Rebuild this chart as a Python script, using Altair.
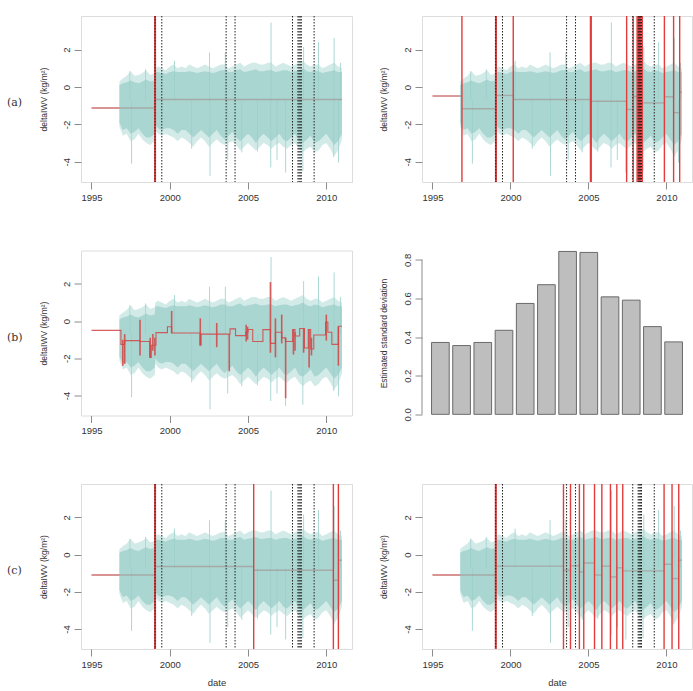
import altair as alt
import pandas as pd

FONT = "Liberation Sans"

env_t = [1996.78, 1997.0, 1997.25, 1997.5, 1997.75, 1998.0, 1998.25, 1998.5, 1998.75, 1999.04,
         1999.08, 1999.25, 1999.5, 1999.75,
         2000.0, 2000.25, 2000.5, 2000.75,
         2001.0, 2001.25, 2001.5, 2001.75,
         2002.0, 2002.25, 2002.5, 2002.75,
         2003.0, 2003.25, 2003.5, 2003.75,
         2004.0, 2004.25, 2004.5, 2004.75,
         2005.0, 2005.25, 2005.5, 2005.75,
         2006.0, 2006.25, 2006.5, 2006.75,
         2007.0, 2007.25, 2007.5, 2007.75,
         2008.0, 2008.25, 2008.5, 2008.75,
         2009.0, 2009.25, 2009.5, 2009.75,
         2010.0, 2010.25, 2010.5, 2010.75, 2011.0]
env_outer_hi = [0.3, 0.45, 0.6, 0.85, 0.6, 0.65, 0.75, 0.9, 0.65, 0.75,
                1.0, 1.1, 1.0, 0.9,
                1.1, 1.2, 1.0, 1.1,
                1.0, 1.2, 1.1, 1.0,
                1.1, 1.2, 1.1, 1.0,
                1.1, 1.2, 1.2, 1.0,
                1.1, 1.2, 1.3, 1.1,
                1.2, 1.3, 1.3, 1.2,
                1.2, 1.3, 1.3, 1.1,
                1.2, 1.3, 1.2, 1.1,
                1.2, 1.3, 1.4, 1.2,
                1.1, 1.2, 1.2, 1.0,
                1.1, 1.2, 1.3, 1.1, 1.0]
env_outer_lo = [-2.1, -2.6, -2.5, -2.9, -2.8, -2.5, -2.8, -3.0, -3.1, -2.9,
                -2.3, -2.5, -2.6, -2.5,
                -2.6, -2.7, -2.9, -2.7,
                -2.8, -3.0, -3.2, -2.9,
                -2.7, -2.9, -3.2, -3.0,
                -2.8, -3.0, -3.1, -3.0,
                -2.9, -3.1, -3.4, -3.2,
                -3.0, -3.2, -3.4, -3.2,
                -3.0, -3.1, -3.3, -3.1,
                -3.0, -3.2, -3.3, -3.1,
                -3.0, -3.3, -3.5, -3.3,
                -3.2, -3.5, -3.4, -3.1,
                -3.0, -3.3, -3.7, -3.4, -2.8]
env_inner_hi = [0.1, 0.2, 0.25, 0.35, 0.25, 0.2, 0.3, 0.4, 0.3, 0.35,
                0.8, 0.8, 0.75, 0.7,
                0.8, 0.85, 0.8, 0.8,
                0.8, 0.85, 0.8, 0.75,
                0.8, 0.85, 0.8, 0.75,
                0.8, 0.9, 0.9, 0.8,
                0.8, 0.9, 0.95, 0.8,
                0.85, 0.9, 0.95, 0.85,
                0.85, 0.9, 0.9, 0.8,
                0.85, 0.9, 0.9, 0.8,
                0.85, 0.9, 1.0, 0.85,
                0.8, 0.9, 0.85, 0.75,
                0.8, 0.85, 0.9, 0.8, 0.8]
env_inner_lo = [-1.9, -2.3, -2.2, -2.5, -2.4, -2.2, -2.5, -2.7, -2.7, -2.5,
                -2.0, -2.2, -2.3, -2.2,
                -2.2, -2.3, -2.5, -2.3,
                -2.3, -2.5, -2.7, -2.5,
                -2.3, -2.5, -2.7, -2.5,
                -2.3, -2.6, -2.8, -2.6,
                -2.4, -2.7, -2.9, -2.7,
                -2.5, -2.7, -3.0, -2.7,
                -2.5, -2.7, -2.9, -2.7,
                -2.5, -2.8, -2.9, -2.7,
                -2.5, -2.9, -3.0, -2.8,
                -2.6, -3.0, -2.9, -2.7,
                -2.5, -2.8, -3.1, -2.9, -2.5]

# isolated outlying observations
spike_t = [1997.45, 1997.56, 1998.45, 2000.3, 2001.4, 2002.54, 2002.57, 2003.55, 2003.7, 2004.6,
           2005.6, 2006.45, 2006.47, 2006.85, 2007.4, 2008.55, 2008.5, 2009.5, 2010.5, 2010.47,
           2010.78, 2010.9]
spike_v = [0.85, -4.1, 0.95, 1.4, -3.3, 1.85, -4.75, 1.85, -3.9, -3.5,
           -3.45, -4.3, 3.45, -3.9, -4.57, 2.15, -4.5, 2.4, 2.62, -3.75,
           -4.05, 1.3]
spike_base = -0.7

# known metadata changes (black dotted lines)
meta_t = [1999.06, 1999.49, 2003.6, 2004.17, 2007.84, 2008.19, 2008.26, 2008.33, 2008.4, 2009.22]

# ---------------- panel (a) left ----------------
a1_red = [1999.04, 1999.08]
a1_s0 = [1995.0, 1999.06]
a1_s1 = [1999.06, 2011.0]
a1_lv = [-1.12, -0.67]

# ---------------- panel (a) right ----------------
a2_red = [1996.89, 1999.05, 1999.09, 2000.18, 2005.13, 2005.18, 2007.45, 2007.87,
          2008.12, 2008.2, 2008.28, 2008.36, 2008.45, 2009.87, 2010.46, 2010.85]
a2_s0 = [1995.0, 1996.89, 1999.07, 2000.18, 2005.15, 2007.45, 2007.87, 2008.45, 2009.87, 2010.46, 2010.85]
a2_s1 = [1996.89, 1999.07, 2000.18, 2005.15, 2007.45, 2007.87, 2008.12, 2009.87, 2010.46, 2010.85, 2011.0]
a2_lv = [-0.48, -1.16, -0.45, -0.67, -0.76, -1.2, -0.5, -0.85, -0.52, -1.37, -0.28]

# ---------------- panel (b) left: step estimate ----------------
b_step_t = [1995.0, 1996.88, 1997.12, 1998.1, 1998.72, 1998.82, 1999.12, 1999.85, 2000.12, 2001.93,
            2002.0, 2003.8, 2003.85, 2004.2, 2004.85, 2005.0, 2005.3, 2005.95, 2006.43, 2006.75,
            2007.15, 2007.4, 2007.85, 2008.0, 2008.3, 2008.6, 2008.85, 2009.0, 2009.2, 2009.95,
            2010.1, 2010.35, 2010.77, 2011.0]
b_step_v = [-0.5, -1.25, -1.05, -1.1, -1.95, -1.3, -0.62, -0.3, -0.64, -1.3,
            -0.7, -0.7, -0.42, -0.78, -0.6, -0.45, -1.1, -0.46, -1.2, -0.6,
            -0.9, -1.1, -0.45, -0.8, -0.4, -1.45, -0.45, -1.5, -0.75, -0.05,
            -0.6, -1.25, -0.28, -0.28]
b_spk_t = [1997.0, 1997.12, 1998.1, 1998.75, 1998.92, 1999.05, 2000.12, 2001.95, 2003.0, 2003.8,
           2004.88, 2004.97, 2006.43, 2006.75, 2007.15, 2007.4, 2007.9, 2008.0, 2008.55, 2008.9,
           2009.05, 2010.0, 2010.77]
b_spk_lo = [-2.4, -2.3, -1.85, -1.95, -1.6, -1.85, -0.65, -1.3, -1.4, -2.7,
            -1.1, -1.0, -1.7, -1.95, -1.2, -4.15, -1.8, -1.6, -1.7, -2.5,
            -1.85, -1.05, -2.4]
b_spk_hi = [-1.0, -0.7, 0.07, -0.9, -0.7, -0.9, 0.55, 0.15, -0.1, -0.7,
            -0.2, -0.3, 2.1, 0.15, 0.35, -0.9, -0.45, -0.6, -0.4, -0.45,
            -0.9, 0.35, -0.3]

# ---------------- panel (b) right: monthly standard deviation ----------------
months = ["Jan", "Feb", "Mar", "Apr", "May", "Jun", "Jul", "Aug", "Sep", "Oct", "Nov", "Dec"]
sd_values = [0.372, 0.356, 0.372, 0.435, 0.574, 0.671, 0.843, 0.838, 0.608, 0.591, 0.454, 0.375]

# ---------------- panel (c) left ----------------
c1_red = [1999.04, 1999.08, 2005.36, 2010.45, 2010.77]
c1_s0 = [1995.0, 1999.06, 2005.36, 2010.45, 2010.77]
c1_s1 = [1999.06, 2005.36, 2010.45, 2010.77, 2011.0]
c1_lv = [-1.1, -0.64, -0.84, -1.38, -0.3]

# ---------------- panel (c) right ----------------
c2_red = [1999.04, 1999.08, 2003.4, 2003.85, 2004.42, 2004.7, 2005.39, 2005.86, 2006.41, 2006.82,
          2007.2, 2009.85, 2010.36, 2010.79]
c2_s0 = [1995.0, 1999.06, 2003.4, 2003.85, 2004.42, 2004.7, 2005.39, 2005.86, 2006.41, 2006.82,
         2007.2, 2009.85, 2010.36, 2010.79]
c2_s1 = [1999.06, 2003.4, 2003.85, 2004.42, 2004.7, 2005.39, 2005.86, 2006.41, 2006.82, 2007.2,
         2009.85, 2010.36, 2010.79, 2011.0]
c2_lv = [-1.1, -0.62, -0.84, -0.6, -0.93, -0.45, -1.1, -0.62, -1.2, -0.71,
         -0.875, -0.52, -1.29, -0.3]

# ---------------- styling helpers ----------------
XS = alt.Scale(domain=[1994.33, 2011.64], nice=False, zero=False)
YS = alt.Scale(domain=[-5.08, 3.8], nice=False, zero=False)
TEAL_OUT = "#d3ebe8"
TEAL_IN = "#94ccc7"
TEAL_SPK = "#acd8d4"
RED = "#e23c3c"
AXC = "#8c8c8c"
TXT = "#333333"

env_df = pd.DataFrame({"t": env_t, "olo": env_outer_lo, "ohi": env_outer_hi,
                       "ilo": env_inner_lo, "ihi": env_inner_hi})
spk_df = pd.DataFrame({"t": spike_t, "v": spike_v, "b": [spike_base] * len(spike_t)})
meta_df = pd.DataFrame({"t": meta_t})


def x_axis(title):
    return alt.Axis(values=[1995, 2000, 2005, 2010], format="d", grid=False, domain=False,
                    tickSize=7, tickColor=AXC, labelColor=TXT, labelFont=FONT, labelFontSize=9.5,
                    labelPadding=3, labelFlush=False, title=title, titleFont=FONT,
                    titleFontSize=9.5, titleFontWeight="normal", titleColor=TXT, titlePadding=9)


def y_axis(h, tx):
    return alt.Axis(values=[-4, -2, 0, 2], labelExpr="'' + datum.value", grid=False, domain=False,
                    tickSize=7, tickColor=AXC, labelColor=TXT, labelFont=FONT, labelFontSize=9.5,
                    labelAngle=270, labelAlign="center", labelBaseline="bottom", labelPadding=3,
                    title="deltaIWV (kg/m²)", titleFont=FONT, titleFontSize=8.5,
                    titleFontWeight="normal", titleColor=TXT, titleAngle=270, titleX=tx,
                    titleY=h / 2, titleAlign="center", titleBaseline="middle")


def ts_panel(width, height, xtitle, tx, red=None, s0=None, s1=None, lv=None, label=None,
             step=False):
    xa = x_axis(xtitle)
    ya = y_axis(height, tx)

    def X(f):
        return alt.X(f, type="quantitative", scale=XS, axis=xa)

    def Y(f):
        return alt.Y(f, type="quantitative", scale=YS, axis=ya)

    layers = []
    layers.append(alt.Chart(env_df).mark_area(color=TEAL_OUT, opacity=1).encode(
        x=X("t"), y=Y("olo"), y2="ohi"))
    layers.append(alt.Chart(spk_df).mark_rule(color=TEAL_SPK, strokeWidth=1).encode(
        x=X("t"), y=Y("v"), y2="b"))
    if lv is not None:
        seg_df = pd.DataFrame({"s0": s0, "s1": s1, "lv": lv})
        layers.append(alt.Chart(seg_df).mark_rule(color="#b83232", strokeWidth=1.4,
                                                  opacity=0.7).encode(
            x=X("s0"), x2="s1", y=Y("lv")))
    layers.append(alt.Chart(env_df).mark_area(color=TEAL_IN, opacity=0.66).encode(
        x=X("t"), y=Y("ilo"), y2="ihi"))
    if red is not None:
        layers.append(alt.Chart(pd.DataFrame({"t": red})).mark_rule(
            color=RED, strokeWidth=1.4).encode(x=X("t")))
        layers.append(alt.Chart(meta_df).mark_rule(
            color="#222222", strokeWidth=1, strokeDash=[1.5, 1.5]).encode(x=X("t")))
    if step:
        st_df = pd.DataFrame({"t": b_step_t, "v": b_step_v})
        layers.append(alt.Chart(st_df).mark_line(color="#d24444", strokeWidth=1.1,
                                                 interpolate="step-after", opacity=0.85).encode(
            x=X("t"), y=Y("v")))
        bs_df = pd.DataFrame({"t": b_spk_t, "lo": b_spk_lo, "hi": b_spk_hi})
        layers.append(alt.Chart(bs_df).mark_rule(color="#d24444", strokeWidth=1.6,
                                                 opacity=0.85).encode(
            x=X("t"), y=Y("lo"), y2="hi"))
    if label is not None:
        layers.append(alt.Chart(pd.DataFrame({"lab": [label]})).mark_text(
            font="DejaVu Serif", fontSize=11, color=TXT, align="left",
            baseline="middle").encode(text="lab:N", x=alt.value(-74), y=alt.value(87)))
    return alt.layer(*layers).properties(width=width, height=height)


# ---------------- histogram panel ----------------
hist_df = pd.DataFrame({"m": months, "sd": sd_values})
HY = alt.Scale(domain=[-0.006, 0.848], nice=False, zero=False)
hya = alt.Axis(values=[0, 0.2, 0.4, 0.6, 0.8], format=".1f", grid=False, domain=False,
               tickSize=7, tickColor=AXC, labelColor=TXT, labelFont=FONT, labelFontSize=9.5,
               labelAngle=270, labelAlign="center", labelBaseline="bottom", labelPadding=3,
               title="Estimated standard deviation", titleFont=FONT, titleFontSize=8.5,
               titleFontWeight="normal", titleColor=TXT, titleAngle=270, titleX=-39,
               titleY=165 / 2, titleAlign="center", titleBaseline="middle")
bars = alt.Chart(hist_df).mark_bar(color="#bebebe", stroke="#6a6a6a", strokeWidth=1).encode(
    x=alt.X("m:N", sort=months, axis=None,
            scale=alt.Scale(paddingInner=0.167, paddingOuter=0.45)),
    y=alt.Y("sd:Q", scale=HY, axis=hya))
axis_line = alt.Chart(pd.DataFrame({"sd": [0.0], "sd2": [0.8]})).mark_rule(
    color=AXC, strokeWidth=1).encode(
    x=alt.value(0), y=alt.Y("sd:Q", scale=HY, axis=hya), y2="sd2")
hist = alt.layer(bars, axis_line).properties(
    width=270, height=165, view=alt.ViewBackground(strokeOpacity=0))

pa1 = ts_panel(271, 166, "", -38, red=a1_red, s0=a1_s0, s1=a1_s1, lv=a1_lv, label="(a)")
pa2 = ts_panel(270, 166, "", -39, red=a2_red, s0=a2_s0, s1=a2_s1, lv=a2_lv)
pb1 = ts_panel(271, 165, "", -38, label="(b)", step=True)
pc1 = ts_panel(271, 165, "date", -38, red=c1_red, s0=c1_s0, s1=c1_s1, lv=c1_lv, label="(c)")
pc2 = ts_panel(270, 165, "date", -39, red=c2_red, s0=c2_s0, s1=c2_s1, lv=c2_lv)

chart = alt.concat(pa1, pa2, pb1, hist, pc1, pc2, columns=2,
                   spacing={"row": 68.5, "column": 70}, bounds="flush").properties(
    padding={"left": 6, "top": 14, "right": 0, "bottom": 0}
).configure_view(stroke=AXC, strokeWidth=1).configure(background="white")

chart.save("out.html", embed_options={"renderer": "svg", "actions": False})
